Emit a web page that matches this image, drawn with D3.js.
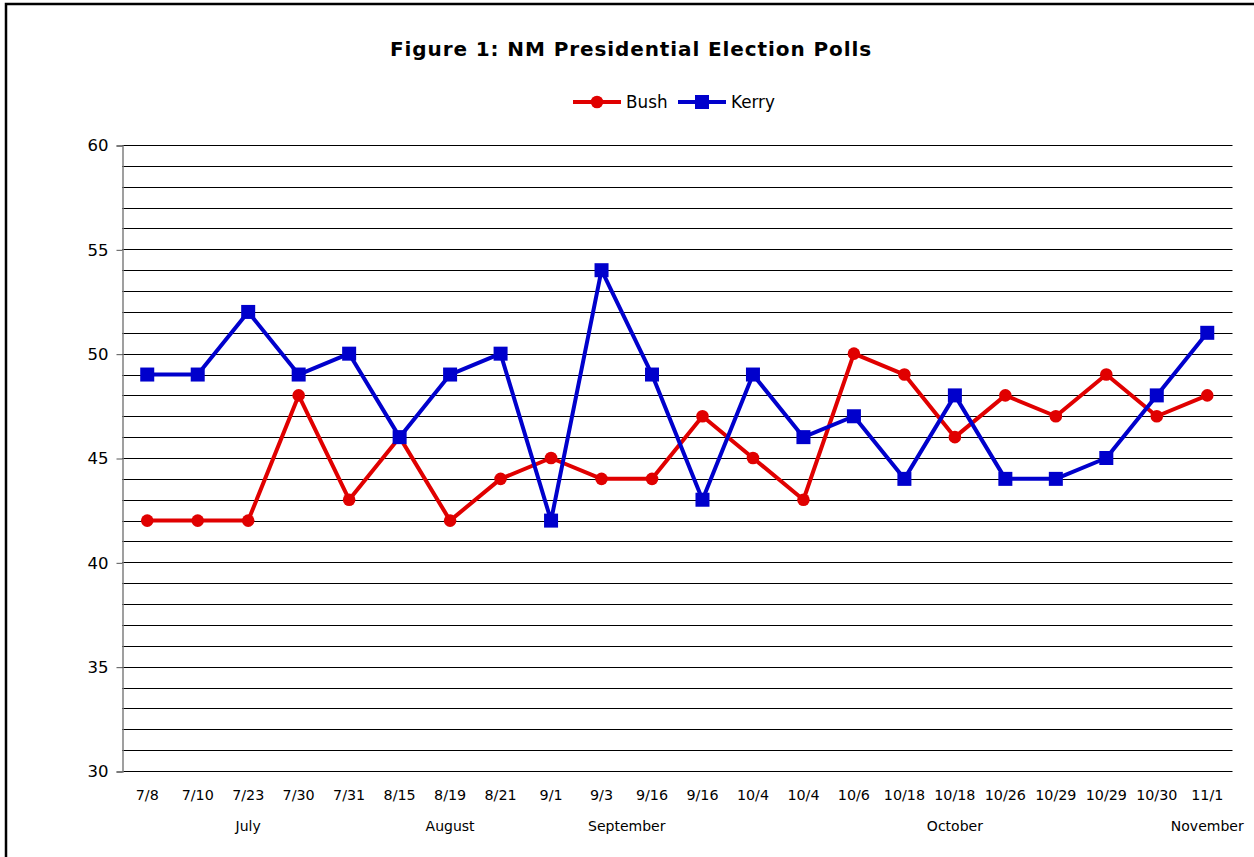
<!DOCTYPE html>
<html>
<head>
<meta charset="utf-8">
<script src="https://cdn.jsdelivr.net/npm/d3@7"></script>
<style>
  html, body { margin: 0; padding: 0; background: #fff; }
  svg { display: block; font-family: "DejaVu Sans", Verdana, sans-serif; }
</style>
</head>
<body>
<svg id="chart" width="1254" height="857"></svg>
<script>
// Poll dates (x categories)
const dates = ["7/8","7/10","7/23","7/30","7/31","8/15","8/19","8/21","9/1","9/3","9/16","9/16",
               "10/4","10/4","10/6","10/18","10/18","10/26","10/29","10/29","10/30","11/1"];
// Poll results, percent
const bush  = [42,42,42,48,43,46,42,44,45,44,44,47,45,43,50,49,46,48,47,49,47,48];
const kerry = [49,49,52,49,50,46,49,50,42,54,49,43,49,46,47,44,48,44,44,45,48,51];
// Month groups: first and last date index covered by each month
const monthNames = ["July","August","September","October","November"];
const monthFirst = [0,5,8,12,21];
const monthLast  = [4,7,11,20,21];
const yTicks = [30,35,40,45,50,55,60];

(function () {
const svg = d3.select("#chart");
const W = 1254, H = 857;
const plotLeft = 122, plotRight = 1232.5, plotTop = 145, plotBottom = 771;

// outer frame
svg.append("rect").attr("x", 6).attr("y", 4).attr("width", W + 10).attr("height", H + 10)
  .attr("fill", "none").attr("stroke", "#000").attr("stroke-width", 2.5);

const x = d3.scalePoint().domain(d3.range(dates.length)).range([plotLeft, plotRight]).padding(0.5);
const y = d3.scaleLinear().domain([30, 60]).range([plotBottom, plotTop]);

// horizontal gridlines at every unit
svg.append("g").selectAll("line").data(d3.range(30, 61)).join("line")
  .attr("x1", plotLeft).attr("x2", plotRight)
  .attr("y1", d => Math.round(y(d)) + 0.5).attr("y2", d => Math.round(y(d)) + 0.5)
  .attr("stroke", "#000").attr("stroke-width", 1);

// y axis
const yAxis = svg.append("g").attr("transform", `translate(${plotLeft + 0.5},0.5)`)
  .call(d3.axisLeft(y).tickValues(yTicks).tickSize(6).tickPadding(8).tickFormat(d3.format("d")));
yAxis.select(".domain").attr("stroke", "#808080").attr("stroke-width", 1.5);
yAxis.selectAll(".tick line").attr("stroke", "#555");
yAxis.selectAll("text").attr("font-size", 16.5).attr("fill", "#000")
  .attr("font-family", "DejaVu Sans, Verdana, sans-serif");

// category labels
svg.append("g").selectAll("text").data(dates).join("text")
  .attr("x", (d, i) => x(i)).attr("y", 800)
  .attr("text-anchor", "middle").attr("font-size", 14.3).attr("fill", "#000")
  .text(d => d);

// month labels centred under their date range
svg.append("g").selectAll("text").data(monthNames).join("text")
  .attr("x", (d, i) => (x(monthFirst[i]) + x(monthLast[i])) / 2).attr("y", 831)
  .attr("text-anchor", "middle").attr("font-size", 14).attr("fill", "#000")
  .text(d => d);

// title
svg.append("text").attr("x", 631).attr("y", 56).attr("text-anchor", "middle")
  .attr("font-size", 20).attr("letter-spacing", 0.9).attr("font-weight", "bold").attr("fill", "#000")
  .text("Figure 1: NM Presidential Election Polls");

const series = [
  { name: "Bush",  values: bush,  color: "#e00000", marker: "circle" },
  { name: "Kerry", values: kerry, color: "#0000cc", marker: "square" }
];

const line = d3.line().x((d, i) => x(i)).y(d => y(d));

series.forEach(s => {
  const g = svg.append("g");
  g.append("path").datum(s.values).attr("d", line)
    .attr("fill", "none").attr("stroke", s.color).attr("stroke-width", 4)
    .attr("stroke-linejoin", "round");
  if (s.marker === "circle") {
    g.selectAll("circle").data(s.values).join("circle")
      .attr("cx", (d, i) => x(i)).attr("cy", d => y(d)).attr("r", 6.3)
      .attr("fill", s.color);
  } else {
    g.selectAll("rect").data(s.values).join("rect")
      .attr("x", (d, i) => x(i) - 7).attr("y", d => y(d) - 7)
      .attr("width", 14).attr("height", 14).attr("fill", s.color);
  }
});

// legend
const legend = svg.append("g").attr("transform", "translate(573,102)");
const legX = [0, 105];
series.forEach((s, i) => {
  const lg = legend.append("g").attr("transform", `translate(${legX[i]},0)`);
  lg.append("line").attr("x1", 0).attr("x2", 48).attr("y1", 0).attr("y2", 0)
    .attr("stroke", s.color).attr("stroke-width", 4);
  if (s.marker === "circle") {
    lg.append("circle").attr("cx", 24).attr("cy", 0).attr("r", 6.3).attr("fill", s.color);
  } else {
    lg.append("rect").attr("x", 17).attr("y", -7).attr("width", 14).attr("height", 14).attr("fill", s.color);
  }
  lg.append("text").attr("x", 53).attr("y", 6).attr("font-size", 16.8).attr("fill", "#000")
    .text(s.name);
});
})();
</script>
</body>
</html>
